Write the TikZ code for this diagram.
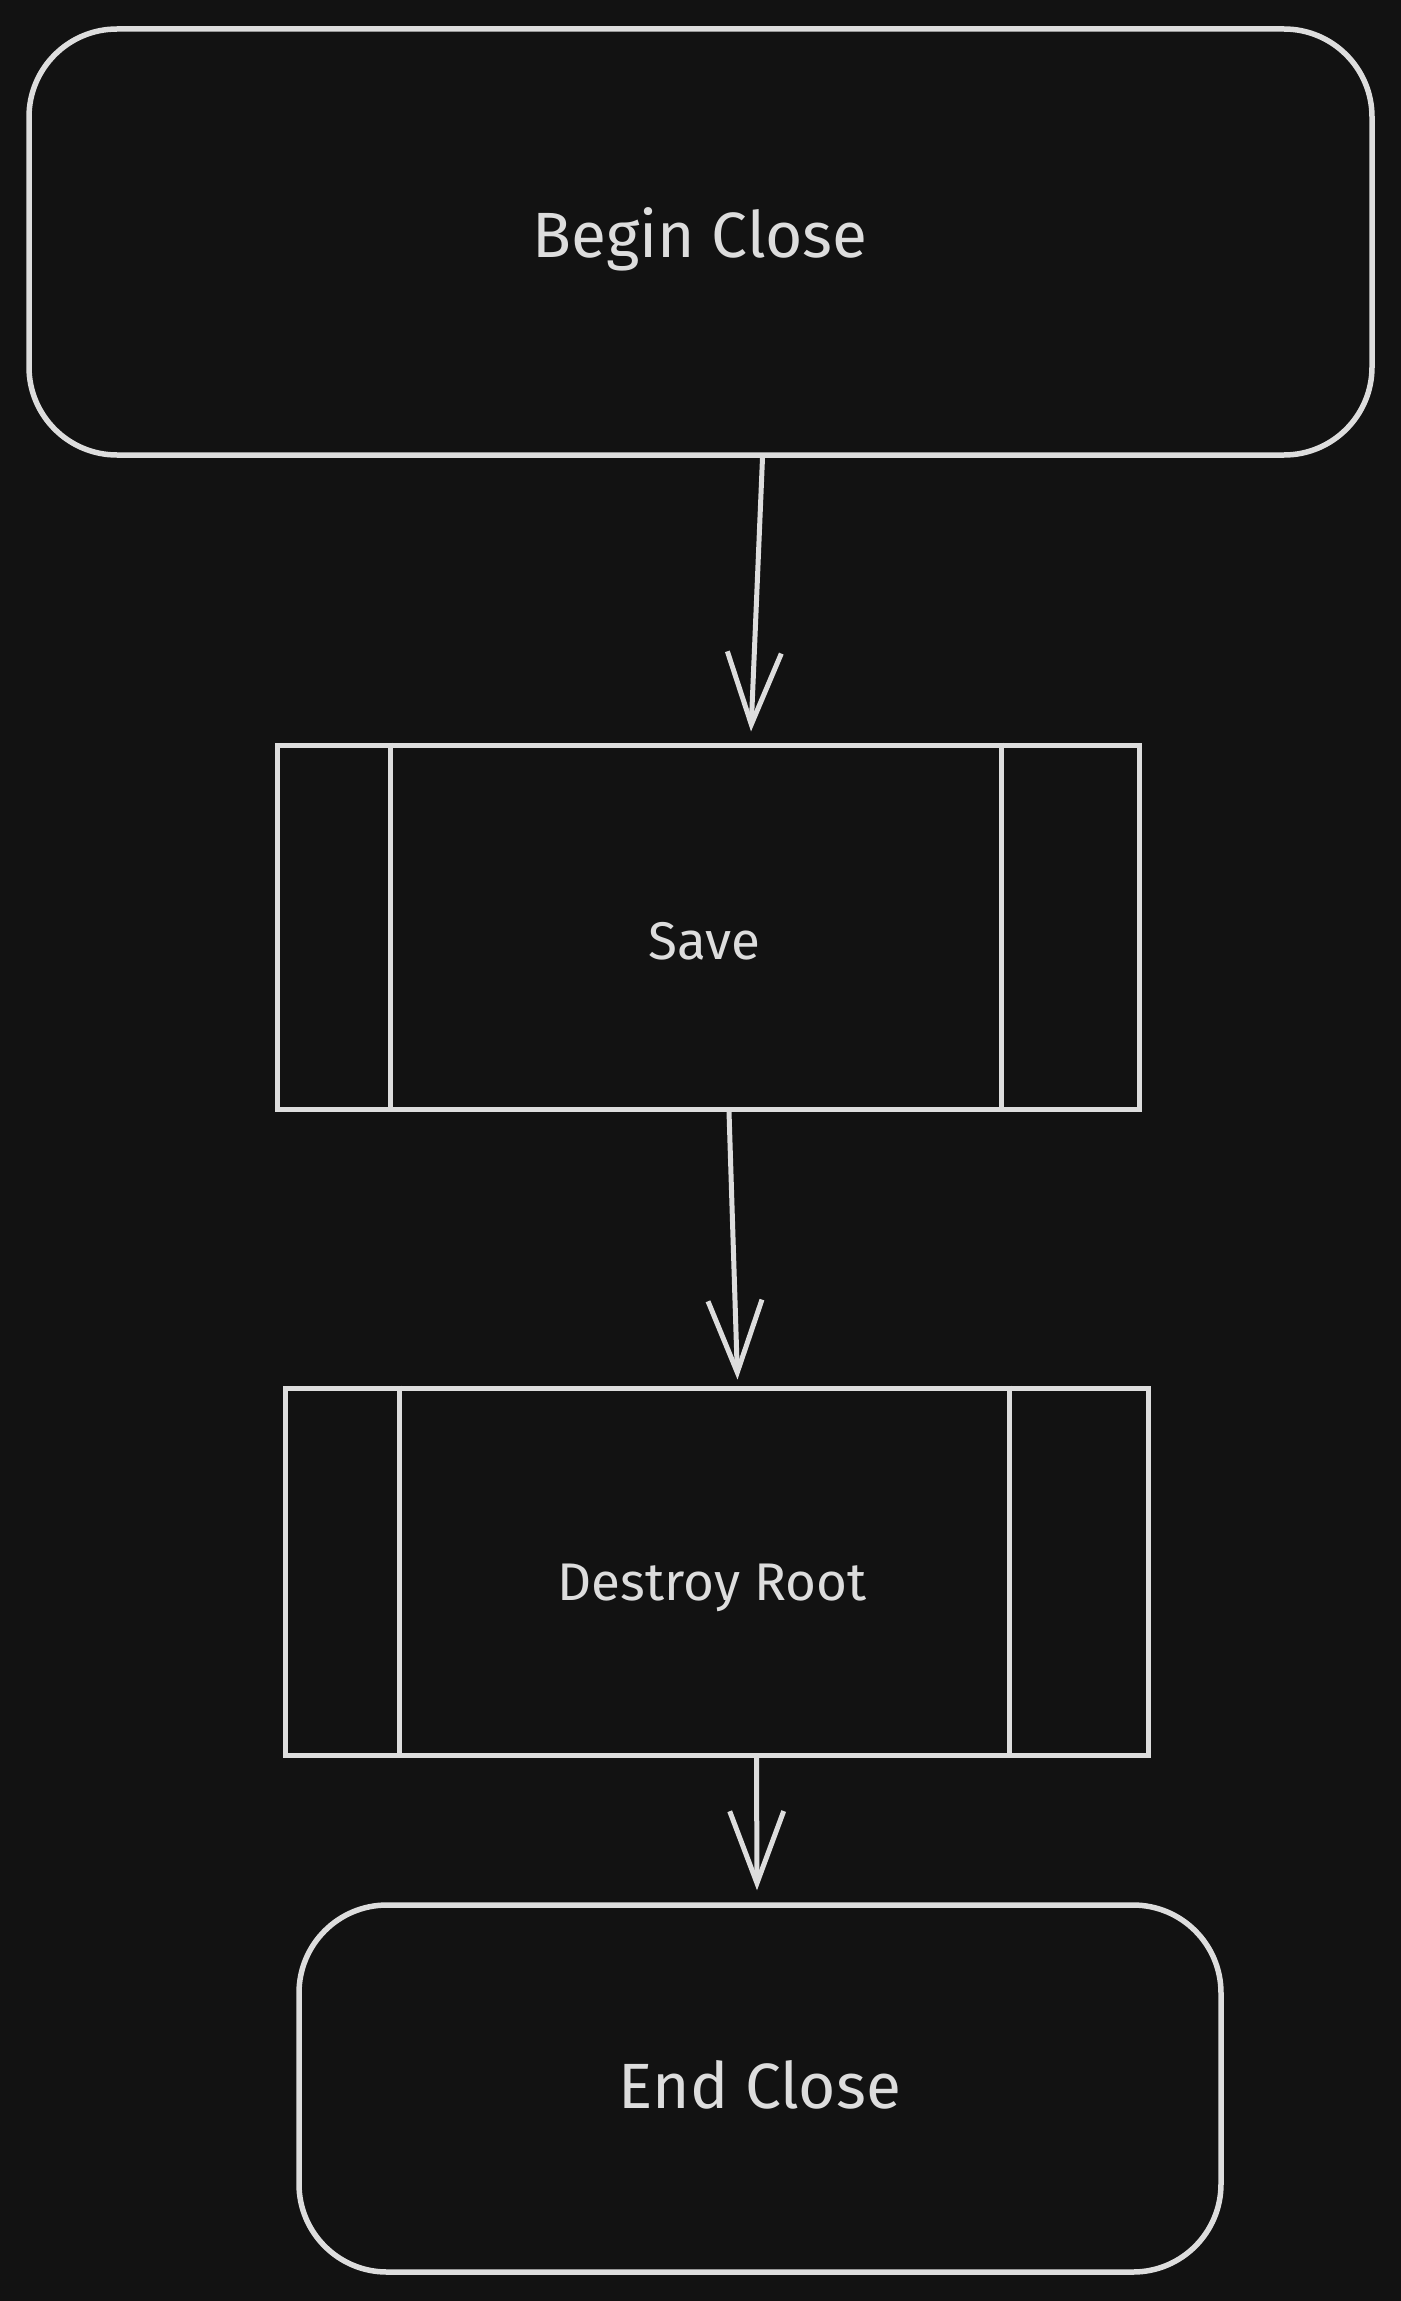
\documentclass[tikz,border=0pt]{standalone}
\usepackage{fontspec}
\setmainfont{Fira Sans}
\usetikzlibrary{arrows.meta}
\definecolor{bgdark}{HTML}{121212}
\definecolor{inkgrey}{HTML}{DDDDDD}
\tikzset{
  terminal/.style={draw=inkgrey, line width=5.5pt, rounded corners=88pt},
  subproc/.style={draw=inkgrey, line width=5pt},
  bigtext/.style={text=inkgrey, font=\fontsize{64}{76}\selectfont},
  smalltext/.style={text=inkgrey, font=\fontsize{53}{63}\selectfont},
  flow/.style={draw=inkgrey, line width=5pt,
    -{Straight Barb[length=72pt, width=54pt, line width=5pt]}}
}
\begin{document}
\begin{tikzpicture}[x=1pt, y=-1pt]
  \useasboundingbox (0,0) rectangle (1400,2301);
  \fill[bgdark] (-10,-10) rectangle (1410,2311);
  % boxes
  \node[terminal, minimum width=1343pt, minimum height=426pt] (begin) at (700.5,242) {};
  \node[bigtext] (begintxt) at (700,239) {Begin Close};
  \node[subproc, minimum width=862pt, minimum height=364pt] (save) at (708,927) {};
  \node[smalltext] (savetxt) at (704,941) {Save};
  \node[subproc, minimum width=863pt, minimum height=367pt] (destroy) at (716.5,1571.5) {};
  \node[smalltext] (destroytxt) at (712,1588) {Destroy Root};
  \node[terminal, minimum width=922pt, minimum height=367pt] (end) at (760,2088.5) {};
  \node[bigtext] (endtxt) at (760,2085) {End Close};
  % inner bars of the subprocess boxes
  \draw[inkgrey, line width=5pt] ([xshift=116pt]save.north west) -- ([xshift=116pt]save.south west);
  \draw[inkgrey, line width=5pt] ([xshift=-140pt]save.north east) -- ([xshift=-140pt]save.south east);
  \draw[inkgrey, line width=5pt] ([xshift=117pt]destroy.north west) -- ([xshift=117pt]destroy.south west);
  \draw[inkgrey, line width=5pt] ([xshift=-141pt]destroy.north east) -- ([xshift=-141pt]destroy.south east);
  % connectors
  \draw[flow] ([xshift=62pt]begin.south) -- ([xshift=43pt, yshift=11pt]save.north);
  \draw[flow] ([xshift=21pt]save.south) -- ([xshift=21pt, yshift=6pt]destroy.north);
  \draw[flow] ([xshift=40pt]destroy.south) -- ([xshift=-3pt, yshift=12pt]end.north);
\end{tikzpicture}
\end{document}
